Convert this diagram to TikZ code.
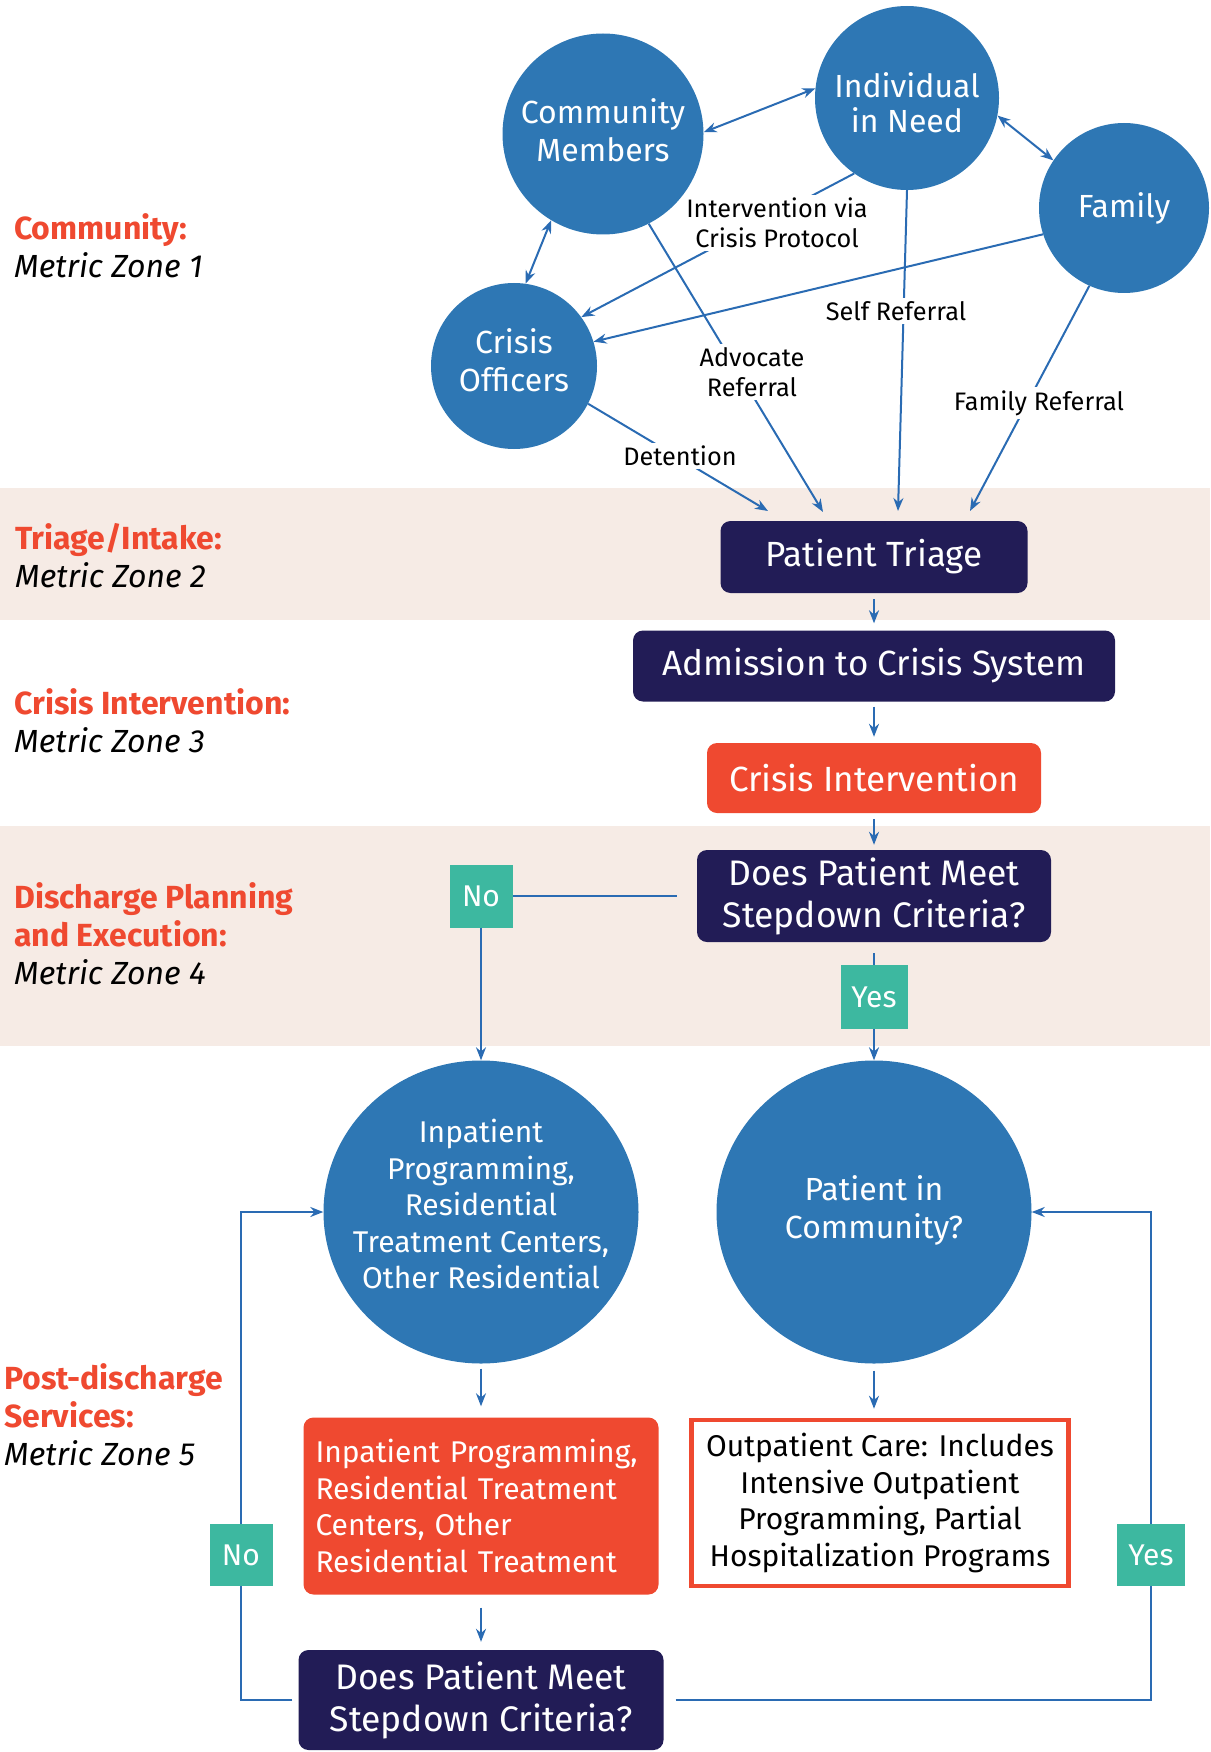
\documentclass[tikz,border=0pt]{standalone}
\usepackage{fontspec}
\setmainfont{Fira Sans}
\usetikzlibrary{arrows.meta,shapes.geometric}
\definecolor{cblue}{HTML}{2E77B4}
\definecolor{navy}{HTML}{221C56}
\definecolor{cred}{HTML}{EF4930}
\definecolor{cteal}{HTML}{3DB8A0}
\definecolor{bandc}{HTML}{F6EBE5}
\definecolor{lblue}{HTML}{2A6BB3}
\newcommand{\fsz}[2]{\fontsize{#1}{#2}\selectfont}
\tikzset{
 flow/.style={draw=lblue, line width=2pt},
 arr/.style={flow, -{Stealth[length=13pt,width=10pt]}},
 darr/.style={flow, {Stealth[length=13pt,width=10pt]}-{Stealth[length=13pt,width=10pt]}},
 bub/.style={circle, fill=cblue, text=white, align=center, inner sep=0pt, font=\fsz{32}{38}},
 bigbub/.style={ellipse, fill=cblue, text=white, align=center, inner sep=0pt, minimum width=315pt, minimum height=303pt, font=\fsz{30}{36.5}},
 bubtext/.style={text=white, align=center, inner sep=0pt, font=\fsz{30}{36.5}},
 navybox/.style={rectangle, rounded corners=10pt, fill=navy, text=white, align=center, inner sep=0pt, font=\fsz{35}{41}},
 redbox/.style={rectangle, rounded corners=10pt, fill=cred, text=white, align=center, inner sep=0pt, font=\fsz{35}{41}},
 tealbox/.style={rectangle, fill=cteal, text=white, inner sep=0pt, font=\fsz{30}{36}},
 elabel/.style={fill=white, align=center, inner sep=3pt, font=\fsz{25.3}{30}},
 zone/.style={anchor=west, align=left, inner sep=0pt, font=\fsz{32}{38}},
}
\begin{document}
\begin{tikzpicture}[x=1pt,y=-1pt]
\useasboundingbox (0,0) rectangle (1210,1752);
% bands
\fill[bandc] (0,488) rectangle (1210,620);
\fill[bandc] (0,826) rectangle (1210,1046);

% zone labels
\node[zone] (z1) at (14,246) {{\color{cred}\bfseries Community:}\\\itshape Metric Zone 1};
\node[zone] (z2) at (15,556) {{\color{cred}\bfseries Triage/Intake:}\\\itshape Metric Zone 2};
\node[zone] (z3) at (14,721) {{\color{cred}\bfseries Crisis Intervention:}\\\itshape Metric Zone 3};
\node[zone] (z4) at (14,934) {{\color{cred}\bfseries Discharge Planning}\\{\color{cred}\bfseries and Execution:}\\\itshape Metric Zone 4};
\node[zone] (z5) at (4,1415) {{\color{cred}\bfseries Post-discharge}\\{\color{cred}\bfseries Services:}\\\itshape Metric Zone 5};

% top circles
\node[bub, minimum size=201pt] (comm) at (603,134) {};
\node[bub] (commtxt) at (603,130) {Community\\Members};
\node[bub, minimum size=184pt] (ind) at (907,98) {};
\node[bub, font=\fsz{32}{35}] (indtxt) at (907,103) {Individual\\in Need};
\node[bub, minimum size=170pt] (fam) at (1124,208) {Family};
\node[bub, minimum size=166pt] (co) at (514,366) {};
\node[bub] (cotxt) at (514,360) {Crisis\\Officers};

% triage and boxes
\node[navybox, minimum width=307pt, minimum height=72pt] (tri) at (874,557) {Patient Triage};
\node[navybox, minimum width=482pt, minimum height=71pt] (adm) at (874,666) {Admission to Crisis System};
\node[redbox, minimum width=334pt, minimum height=70pt] (ci) at (874,778) {Crisis Intervention};
\node[navybox, minimum width=354pt, minimum height=92pt, font=\fsz{35.5}{42}] (does1) at (874,896) {Does Patient Meet\\Stepdown Criteria?};

\coordinate (t1) at (768,511);
\coordinate (t2) at (823,512);
\coordinate (t3) at (898,511);
\coordinate (t4) at (970,511);

% top edges
\draw[darr] (comm.1) -- (ind.174);
\draw[darr] (ind.-11) -- (fam.146);
\draw[darr] (comm.239) -- (co.82);
\draw[arr] (ind.235) -- (co.36);
\draw[arr] (fam.198) -- (co.17);
\draw[arr] (comm.297) -- (t2);
\draw[arr] (ind.270) -- (t3);
\draw[arr] (fam.246) -- (t4);
\draw[arr] (co.333) -- (t1);

% edge labels
\node[elabel] (lint) at (777,223) {Intervention via\\Crisis Protocol};
\node[elabel] (lself) at (896,311) {Self Referral};
\node[elabel] (ladv) at (752,372) {Advocate\\Referral};
\node[elabel] (lfam) at (1039,403) {Family Referral};
\node[elabel] (ldet) at (680,456) {Detention};

% vertical arrows
\draw[arr, shorten <=6pt, shorten >=7pt] (tri.south) -- (adm.north);
\draw[arr, shorten <=5pt, shorten >=6pt] (adm.south) -- (ci.north);
\draw[arr, shorten <=6pt, shorten >=5pt] (ci.south) -- (does1.north);

% yes/no (top)
\node[tealbox, minimum width=63pt, minimum height=63pt] (no1) at (481,896) {No};
\node[tealbox, minimum width=67pt, minimum height=64pt] (yes1) at (874,997) {Yes};
\draw[flow, shorten <=20pt] (does1.west) -- (no1.east);
\draw[flow, shorten <=11pt] (does1.south) -- (yes1.north);

% bottom circles
\node[bigbub] (inp) at (481,1212) {};
\node[bubtext] (inptxt) at (481,1204) {Inpatient\\Programming,\\Residential\\Treatment Centers,\\Other Residential};
\node[bigbub] (pic) at (874,1212) {};
\node[bubtext, font=\fsz{32}{38}] (pictxt) at (874,1210) {Patient in\\Community?};
\draw[arr] (no1.south) -- (inp.north);
\draw[arr] (yes1.south) -- (pic.north);

% bottom boxes
\node[redbox, text width=331pt, inner xsep=12pt, minimum height=177pt, align=left, font=\fsz{30}{36.5}] (rb) at (481,1506) {Inpatient Programming,\\Residential Treatment\\Centers, Other\\Residential Treatment};
\node[rectangle, draw=cred, line width=4.5pt, fill=white, minimum width=377pt, minimum height=166pt, inner sep=0pt, align=center, font=\fsz{30}{36.5}] (out) at (880,1503) {Outpatient Care: Includes\\Intensive Outpatient\\Programming, Partial\\Hospitalization Programs};
\draw[arr, shorten <=5pt, shorten >=11pt] (inp.south) -- (rb.north);
\draw[arr, shorten <=7pt, shorten >=9pt] (pic.south) -- (pic.south |- out.north);

\node[navybox, minimum width=365pt, minimum height=100pt, font=\fsz{35.5}{42}] (does2) at (481,1700) {Does Patient Meet\\Stepdown Criteria?};
\draw[arr, shorten <=13pt, shorten >=8pt] (rb.south) -- (does2.north);

\node[tealbox, minimum width=63pt, minimum height=62pt] (no2) at (241,1555) {No};
\node[tealbox, minimum width=68pt, minimum height=62pt] (yes2) at (1151,1555) {Yes};
\draw[flow, shorten <=6pt] (does2.west) -| (no2.south);
\draw[arr] (no2.north) |- (inp.west);
\draw[flow, shorten <=12pt] (does2.east) -| (yes2.south);
\draw[arr] (yes2.north) |- (pic.east);
\end{tikzpicture}
\end{document}
